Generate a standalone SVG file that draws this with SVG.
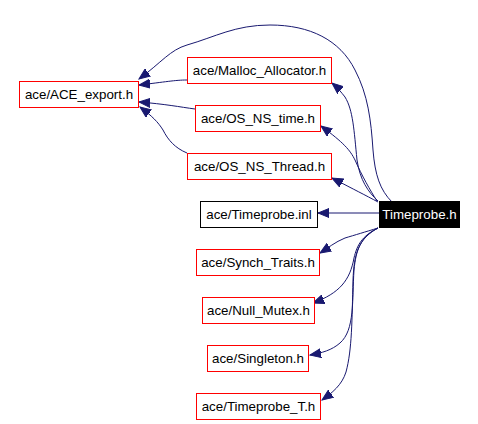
<svg xmlns="http://www.w3.org/2000/svg" width="478" height="424" viewBox="0 0 478 424">
<style>
.n rect{fill:#fff;stroke:#f00;stroke-width:1}
.n text{font-family:"Liberation Sans",Arial,sans-serif;font-size:13.33px;text-anchor:middle;fill:#000}
.n.k rect{stroke:#000}
.n.cur rect{fill:#000;stroke:#000}
.n.cur text{fill:#fff}
#edges path{fill:none;stroke:#191970;stroke-width:1;marker-end:url(#ah)}
</style>
<defs>
<marker id="ah" markerUnits="userSpaceOnUse" markerWidth="12" markerHeight="10" viewBox="0 0 12 10" refX="11" refY="5" orient="auto">
<path d="M0,0.5 L11,5 L0,9.5 Z" fill="#191970" stroke="#191970"/>
</marker>
</defs>
<rect width="478" height="424" fill="#fff"/>
<g id="edges">
<path d="M392,202 C380,190 375,175 373,150 C371,120 368,95 355,70 C340,40 310,25 270,25 C235,25 215,37 187,45 C170,50 162,62 139,79"/>
<path d="M187,80 C175,80 165,82 139,85"/>
<path d="M195,109 C180,107 165,104 139,102"/>
<path d="M187,153 C175,148 168,140 163,130 C158,122 152,116 140,107"/>
<path d="M378,201 C368,192 360,180 357,160 C354,130 353,110 345,97 C341,92 338,88 332,83"/>
<path d="M377,201 C370,190 362,176 355,160 C350,150 344,143 321,126"/>
<path d="M378,202 C365,195 355,190 332,178"/>
<path d="M379,213 L318,213"/>
<path d="M378,228 C365,232 355,235 345,238 C335,242 328,248 320,253"/>
<path d="M378,228 C362,236 357,245 354,258 C350,280 340,293 313,303"/>
<path d="M378,228 C360,238 356,250 354,270 C352,300 355,330 340,343 C332,350 322,353 310,355"/>
<path d="M378,228 C358,238 354,255 353,280 C352,320 352,350 346,372 C342,385 332,393 322,400"/>
</g>
<g id="ace_export" class="n"><rect x="19.5" y="81.5" width="119" height="26"/><text x="79" y="99">ace/ACE_export.h</text></g>
<g id="malloc" class="n"><rect x="187.5" y="57.5" width="144" height="26"/><text x="259.5" y="75">ace/Malloc_Allocator.h</text></g>
<g id="os_ns_time" class="n"><rect x="195.5" y="105.5" width="125" height="26"/><text x="258" y="123">ace/OS_NS_time.h</text></g>
<g id="os_ns_thread" class="n"><rect x="187.5" y="153.5" width="144" height="26"/><text x="259.5" y="171">ace/OS_NS_Thread.h</text></g>
<g id="timeprobe_inl" class="n k"><rect x="200.5" y="201.5" width="117" height="26"/><text x="259" y="219">ace/Timeprobe.inl</text></g>
<g id="timeprobe_h" class="n cur"><rect x="379.5" y="201.5" width="80" height="26"/><text x="419.5" y="219">Timeprobe.h</text></g>
<g id="synch_traits" class="n"><rect x="196.5" y="249.5" width="123" height="26"/><text x="258" y="267">ace/Synch_Traits.h</text></g>
<g id="null_mutex" class="n"><rect x="202.5" y="297.5" width="112" height="26"/><text x="258.5" y="315">ace/Null_Mutex.h</text></g>
<g id="singleton" class="n"><rect x="207.5" y="345.5" width="101" height="26"/><text x="258" y="363">ace/Singleton.h</text></g>
<g id="timeprobe_t" class="n"><rect x="196.5" y="393.5" width="124" height="26"/><text x="258.5" y="411">ace/Timeprobe_T.h</text></g>
</svg>
